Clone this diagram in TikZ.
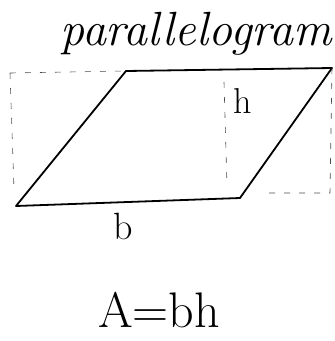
\documentclass[tikz,border=0pt]{standalone}
\begin{document}
\begin{tikzpicture}[x=1pt,y=-1pt,
  outline/.style={line width=1.8pt,line cap=round,line join=round},
  guide/.style={line width=0.6pt,dash pattern=on 6pt off 9pt,gray!60!black},
  lbl/.style={inner sep=0pt,anchor=center}]
\useasboundingbox (0,0) rectangle (335,341);
\coordinate (bl) at (16,206);
\coordinate (br) at (240,198);
\coordinate (tl) at (126,71);
\coordinate (tr) at (332,68);
\coordinate (gtl) at (10,73);
\coordinate (gbl) at (14,190);
\coordinate (gbr) at (268,193);
\coordinate (gbrr) at (330,193);
\coordinate (hm1) at (224,82);
\coordinate (hm2) at (227,186);
\draw[outline] (bl) -- (br) -- (tr) -- (tl) -- cycle;
\draw[guide] (gtl) -- (tl);
\draw[guide] (gtl) -- (gbl);
\draw[guide] (tr) -- (gbrr) -- (gbr);
\draw[guide] (hm1) -- (hm2);
\node[lbl,font=\fontsize{48}{48}\selectfont\itshape] (title) at (196,34) {parallelogram};
\node[lbl,font=\fontsize{36}{36}\selectfont] (h) at (243,101) {h};
\node[lbl,font=\fontsize{38}{38}\selectfont] (b) at (123,226) {b};
\node[lbl,font=\fontsize{50}{50}\selectfont] (area) at (159,310) {A=bh};
\end{tikzpicture}
\end{document}
